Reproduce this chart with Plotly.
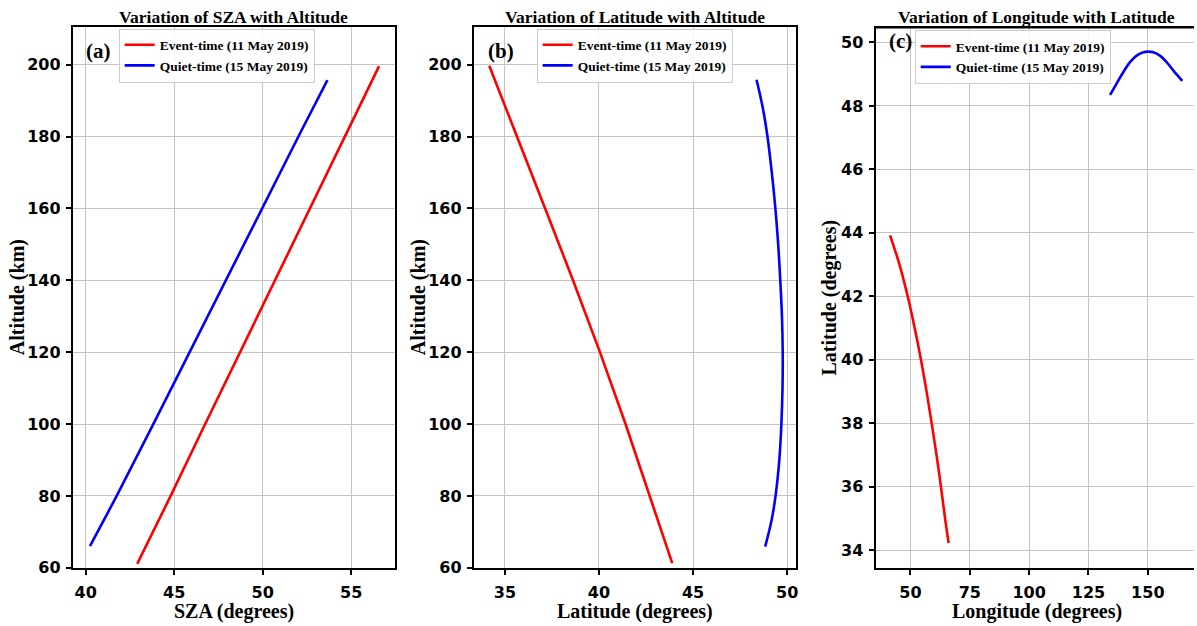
import plotly.graph_objects as go

# ---- (a) SZA vs altitude ----
alt_event_a = [61.1, 80, 100, 120, 140, 160, 180, 199.6]
sza_event = [42.91, 44.80, 46.75, 48.72, 50.71, 52.67, 54.64, 56.58]
alt_quiet_a = [66.0, 80, 100, 120, 140, 160, 180, 195.7]
sza_quiet = [40.24, 41.75, 43.82, 45.86, 47.90, 49.98, 52.02, 53.66]

# ---- (b) latitude vs altitude ----
alt_event_b = [61.3, 80, 100, 120, 140, 160, 180, 199.7]
lat_event_b = [43.89, 42.70, 41.41, 40.05, 38.62, 37.14, 35.64, 34.17]
alt_quiet_b = [65.9, 73, 80, 90, 100, 110, 120, 130, 140, 150, 160, 170, 180, 188, 195.8]
lat_quiet_b = [48.83, 49.16, 49.38, 49.58, 49.69, 49.75, 49.76, 49.72, 49.63, 49.52,
               49.37, 49.18, 48.95, 48.70, 48.37]

# ---- (c) latitude vs longitude ----
lon_event = [41.43, 45.4, 48.86, 51.8, 54.45, 56.8, 58.95, 61.0, 62.86, 64.6, 66.1]
lat_event_c = [43.92, 43.0, 42.0, 41.0, 40.0, 39.0, 38.0, 37.0, 36.0, 35.0, 34.22]
lon_quiet = [134.1, 136.9, 139.7, 142.5, 145.3, 148.1, 150.2, 152.3, 155.1, 157.9, 160.7, 164.5]
lat_quiet_c = [48.345, 48.71, 49.07, 49.38, 49.585, 49.69, 49.71, 49.69, 49.585, 49.38, 49.12, 48.79]

event_label = "Event-time (11 May 2019)"
quiet_label = "Quiet-time (15 May 2019)"
RED, BLUE = "#ff0000", "#0000ff"

W, H = 1197, 626


def fx(p):
    return p / W


def fy(p):
    return 1 - p / H


SERIF = "Liberation Serif"
SANS = "DejaVu Sans"

fig = go.Figure()

# (x-axis, y-axis, legend, event x, event y, quiet x, quiet y, event shape, quiet shape)
panels = [
    ("x", "y", "legend", sza_event, alt_event_a, sza_quiet, alt_quiet_a, "linear", "linear"),
    ("x2", "y2", "legend2", lat_event_b, alt_event_b, lat_quiet_b, alt_quiet_b, "linear", "spline"),
    ("x3", "y3", "legend3", lon_event, lat_event_c, lon_quiet, lat_quiet_c, "spline", "spline"),
]
for xa, ya, lg, xe, ye, xq, yq, se, sq in panels:
    fig.add_trace(go.Scatter(x=xe, y=ye, mode="lines", name=event_label,
                             line=dict(color=RED, width=2.6, shape=se),
                             xaxis=xa, yaxis=ya, legend=lg))
    fig.add_trace(go.Scatter(x=xq, y=yq, mode="lines", name=quiet_label,
                             line=dict(color=BLUE, width=2.6, shape=sq),
                             xaxis=xa, yaxis=ya, legend=lg))


def axis(domain, rng, dtick, anchor, standoff, mirror=True):
    return dict(
        domain=domain, range=rng, dtick=dtick, tick0=0, anchor=anchor,
        showline=True, linecolor="black", linewidth=2, mirror=mirror,
        ticks="outside", ticklen=5, tickwidth=1.5, tickcolor="black",
        ticklabelstandoff=standoff,
        showgrid=True, gridcolor="#c4c4c4", gridwidth=1, zeroline=False,
        tickfont=dict(family=SANS, size=16, color="black", weight="bold"),
        fixedrange=True,
    )


ydom = [fy(577), fy(27)]
ydom_c = [fy(577), fy(28)]

legend_style = dict(
    bgcolor="rgba(255,255,255,0.85)", bordercolor="#cccccc", borderwidth=1,
    font=dict(family=SERIF, size=13.5, color="black", weight="bold"),
    xanchor="left", yanchor="top", itemwidth=30,
)

fig.update_layout(
    width=W, height=H,
    margin=dict(l=0, r=0, t=0, b=0),
    paper_bgcolor="white", plot_bgcolor="white",
    xaxis=axis([fx(73), fx(396)], [39.27, 57.48], 5, "y", 4),
    yaxis=axis(ydom, [60, 210.6], 20, "x", 2),
    xaxis2=axis([fx(475), fx(797.7)], [33.35, 50.45], 5, "y2", 4),
    yaxis2=axis(ydom, [60, 210.6], 20, "x2", 2),
    xaxis3=axis([fx(877.7), 1.0], [35.3, 169.45], 25, "y3", 4),
    yaxis3=axis(ydom_c, [33.44, 50.47], 2, "x3", 2, mirror=False),
    legend=dict(x=fx(119), y=fy(29), **legend_style),
    legend2=dict(x=fx(538), y=fy(29), **legend_style),
    legend3=dict(x=fx(917), y=fy(30.5), **legend_style),
    showlegend=True,
)

# top spine for panel (c); its right edge runs off the page
fig.add_shape(type="line", xref="paper", yref="paper",
              x0=fx(877.7), x1=1.0, y0=fy(28), y1=fy(28),
              line=dict(color="black", width=2))

titles = [
    ("Variation of SZA with Altitude", (73 + 396) / 2),
    ("Variation of Latitude with Altitude", (475 + 797.7) / 2),
    ("Variation of Longitude with Latitude", (877.7 + 1201) / 2),
]
for text, cx in titles:
    fig.add_annotation(text=text, x=fx(cx), y=fy(17), xref="paper", yref="paper",
                       xanchor="center", yanchor="middle", showarrow=False,
                       font=dict(family=SERIF, size=17.5, color="black", weight="bold"))

xlabels = [
    ("SZA (degrees)", (73 + 396) / 2),
    ("Latitude (degrees)", (475 + 797.7) / 2),
    ("Longitude (degrees)", (877.7 + 1201) / 2),
]
for text, cx in xlabels:
    fig.add_annotation(text=text, x=fx(cx), y=fy(621.5), xref="paper", yref="paper",
                       xanchor="center", yanchor="middle", showarrow=False,
                       font=dict(family=SERIF, size=20, color="black", weight="bold"))

ylabels = [
    ("Altitude (km)", 17, 302),
    ("Altitude (km)", 419, 302),
    ("Latitude (degrees)", 832, 302.5),
]
for text, cx, cy in ylabels:
    fig.add_annotation(text=text, x=fx(cx), y=fy(cy), xref="paper", yref="paper",
                       xanchor="center", yanchor="middle", showarrow=False, textangle=-90,
                       font=dict(family=SERIF, size=20, color="black", weight="bold"))

tags = [("(a)", 84, 52), ("(b)", 487, 52), ("(c)", 889, 42)]
for text, lx, ly in tags:
    fig.add_annotation(text=text, x=fx(lx), y=fy(ly), xref="paper", yref="paper",
                       xanchor="left", yanchor="middle", showarrow=False,
                       font=dict(family=SERIF, size=21, color="black", weight="bold"))

fig.write_html("out.html")
